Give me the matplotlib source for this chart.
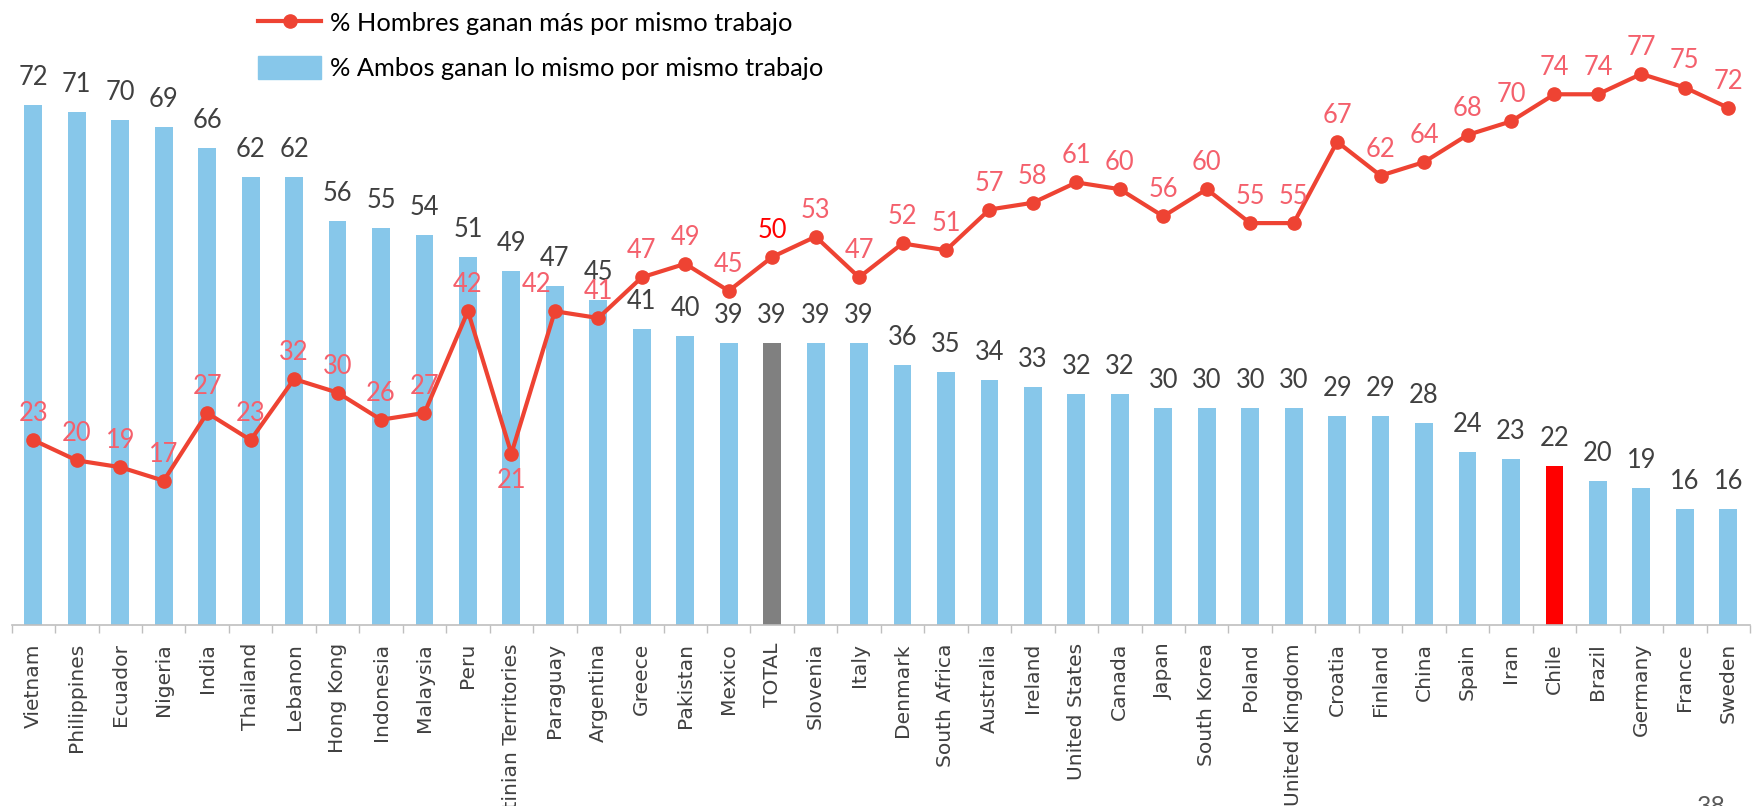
import numpy as np
import matplotlib
matplotlib.use("Agg")
import matplotlib.pyplot as plt
from matplotlib.lines import Line2D
from matplotlib.patches import Patch

categories = ["Vietnam", "Philippines", "Ecuador", "Nigeria", "India", "Thailand", "Lebanon",
              "Hong Kong", "Indonesia", "Malaysia", "Peru", "Palestinian Territories", "Paraguay",
              "Argentina", "Greece", "Pakistan", "Mexico", "TOTAL", "Slovenia", "Italy", "Denmark",
              "South Africa", "Australia", "Ireland", "United States", "Canada", "Japan",
              "South Korea", "Poland", "United Kingdom", "Croatia", "Finland", "China", "Spain",
              "Iran", "Chile", "Brazil", "Germany", "France", "Sweden"]
ambos = [72, 71, 70, 69, 66, 62, 62, 56, 55, 54, 51, 49, 47, 45, 41, 40, 39, 39, 39, 39, 36,
         35, 34, 33, 32, 32, 30, 30, 30, 30, 29, 29, 28, 24, 23, 22, 20, 19, 16, 16]
hombres = [23, 20, 19, 17, 27, 23, 32, 30, 26, 27, 42, 21, 42, 41, 47, 49, 45, 50, 53, 47, 52,
           51, 57, 58, 61, 60, 56, 60, 55, 55, 67, 62, 64, 68, 70, 74, 74, 77, 75, 72]
legend_labels = ["% Hombres ganan más por mismo trabajo", "% Ambos ganan lo mismo por mismo trabajo"]

BLUE = "#87C7EA"
LINE = "#EE4333"
LBL = "#F4606C"
DARK = "#404040"

W, H = 1759, 806
fig = plt.figure(figsize=(W / 100, H / 100), dpi=100)
ax = fig.add_axes([11.6 / W, (H - 625) / H, 1738.4 / W, 625 / H])
x = np.arange(len(categories))
colors = [BLUE] * len(categories)
colors[categories.index("TOTAL")] = "#808080"
colors[categories.index("Chile")] = "#FF0000"
ax.bar(x, ambos, width=0.41, color=colors, zorder=2)
ax.set_xlim(-0.5, len(categories) - 0.5)
ax.set_ylim(0, 625 / 7.22)

ax2 = ax.twinx()
ax2.set_ylim(-29 / 6.78, 596 / 6.78)
ax2.plot(x, hombres, color=LINE, lw=3, marker="o", ms=9.5, zorder=3)

# bar labels
for i, v in enumerate(ambos):
    ax2.annotate(str(v), xy=(i, v), xycoords=ax.transData, xytext=(0, 14.4),
                 textcoords="offset points", ha="center", va="baseline",
                 fontsize=18.4, family="Lato", color=DARK, zorder=5)
# line labels
for i, v in enumerate(hombres):
    c = "#FF0000" if categories[i] == "TOTAL" else LBL
    dx, dy, va = 0, 13.7, "baseline"
    if categories[i] == "Palestinian Territories":
        dy, va = -10, "top"
    if categories[i] == "Paraguay":
        dx = -13
    ax2.annotate(str(v), xy=(i, v), xytext=(dx, dy), textcoords="offset points",
                 ha="center", va=va, fontsize=18.4, family="Lato", color=c, zorder=6)

# axes styling
for s in ["top", "left", "right"]:
    ax.spines[s].set_visible(False)
    ax2.spines[s].set_visible(False)
ax2.spines["bottom"].set_visible(False)
ax.spines["bottom"].set_color("#BFBFBF")
ax.spines["bottom"].set_linewidth(1.2)
ax.set_yticks([])
ax2.set_yticks([])
ax.set_xticks(x)
ax.set_xticklabels(categories, rotation=90, fontsize=14.6, color=DARK, family="DejaVu Sans")
ax.set_xticks(np.arange(-0.5, len(categories)), minor=True)
ax.tick_params(axis="x", which="major", length=0, pad=13)
ax.tick_params(axis="x", which="minor", length=5.8, color="#BFBFBF", width=1)

handles = [Line2D([0], [0], color=LINE, lw=3, marker="o", ms=9.5),
           Patch(color=BLUE)]
leg = fig.legend(handles, legend_labels, loc="upper left", bbox_to_anchor=(235 / W, 1 + 12 / H),
                 frameon=False, prop={"family": "Lato", "size": 18.3}, handlelength=2.5,
                 handletextpad=0.35, labelspacing=0.82, handleheight=1.0)
for t in leg.get_texts():
    t.set_color("#000000")

fig.text(1711 / W, 11 / H, "38", ha="center", va="top", fontsize=18, family="Lato", color="#595959")

fig.savefig("out.png", dpi=100)
